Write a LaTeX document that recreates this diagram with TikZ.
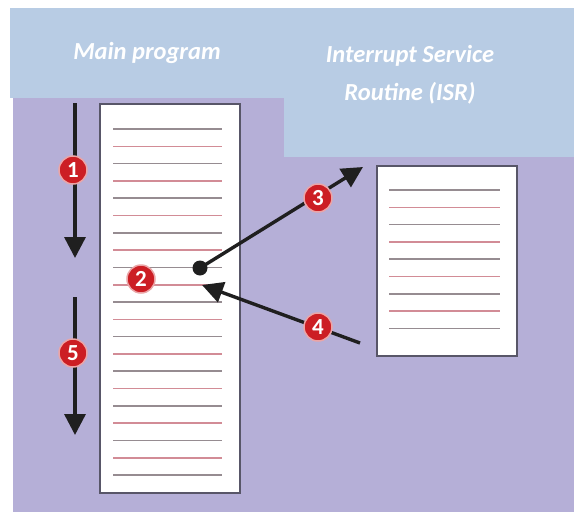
\documentclass[tikz,border=0pt]{standalone}
\usepackage{fontspec}
\setmainfont{Carlito}
\usepackage{xcolor}
\usepackage{tikz}
\usetikzlibrary{arrows.meta}

\definecolor{hdrblue}{RGB}{184,204,228}
\definecolor{bgpurple}{RGB}{181,175,215}
\definecolor{badgered}{RGB}{204,30,36}
\definecolor{rulered}{RGB}{210,140,150}
\definecolor{rulegray}{RGB}{150,140,145}
\definecolor{frame}{RGB}{88,86,104}

\begin{document}
\begin{tikzpicture}[x=1pt, y=-1pt]
  \tikzstyle{hdr}=[rectangle,fill=hdrblue,inner sep=0pt,anchor=north west]
  \tikzstyle{title}=[text=white,align=center,font=\fontsize{24.5}{38}\selectfont\bfseries\itshape]
  \tikzstyle{page}=[rectangle,draw=frame,line width=2.2pt,fill=white,anchor=north west,inner sep=0pt]
  \tikzstyle{rulegr}=[rulegray,line width=1.6pt]
  \tikzstyle{rulerd}=[rulered,line width=1.6pt]
  \tikzstyle{flow}=[black!88,line width=3.4pt,-{Triangle[length=21pt,width=21pt]}]
  \tikzstyle{badge}=[circle,fill=badgered,draw=badgered!40!white,line width=1.5pt,text=white,
                     minimum size=28pt,inner sep=0pt,font=\fontsize{23}{23}\selectfont\bfseries]

  % page and background
  \useasboundingbox (0,0) rectangle (574,512);
  \fill[white] (0,0) rectangle (574,512);
  \fill[bgpurple] (13,98) rectangle (574,512);

  % column headers
  \node[hdr,minimum width=274pt,minimum height=90pt] (mainhdr) at (10,8) {};
  \node[hdr,minimum width=290pt,minimum height=149pt] (isrhdr) at (284,8) {};
  \node[title] (maintitle) at (147,53) {Main program};
  \node[title] (isrtitle) at (410,75) {Interrupt Service\\Routine (ISR)};

  % main program listing
  \node[page,minimum width=140pt,minimum height=389pt] (mainbox) at (99,103) {};
  \foreach \i in {0,2,...,20}
    \draw[rulegr] (113,{129+17.3*\i}) -- (222,{129+17.3*\i});
  \foreach \i in {1,3,...,19}
    \draw[rulerd] (113,{129+17.3*\i}) -- (222,{129+17.3*\i});

  % ISR listing
  \node[page,minimum width=140pt,minimum height=190pt] (isrbox) at (376,165) {};
  \foreach \i in {0,2,...,8}
    \draw[rulegr] (389,{190+17.3*\i}) -- (500,{190+17.3*\i});
  \foreach \i in {1,3,...,7}
    \draw[rulerd] (389,{190+17.3*\i}) -- (500,{190+17.3*\i});

  % flow of control
  \coordinate (runA) at (75,103);
  \coordinate (runAend) at (75,258);
  \coordinate (runB) at (75,297);
  \coordinate (runBend) at (75,435);
  \coordinate (toisr) at (363,167);
  \coordinate (isrret) at (360,343);
  \coordinate (resume) at (202,285);
  \node[circle,fill=black!88,minimum size=15pt,inner sep=0pt] (irq) at (200,268) {};

  \draw[flow] (runA) -- (runAend);
  \draw[flow] (runB) -- (runBend);
  \draw[flow] (irq.center) -- (toisr);
  \draw[flow] (isrret) -- (resume);

  % step numbers
  \node[badge] (s1) at (73,170) {1};
  \node[badge] (s2) at (141,279) {2};
  \node[badge] (s3) at (318,198) {3};
  \node[badge] (s4) at (318,327) {4};
  \node[badge] (s5) at (73,353) {5};
\end{tikzpicture}
\end{document}
